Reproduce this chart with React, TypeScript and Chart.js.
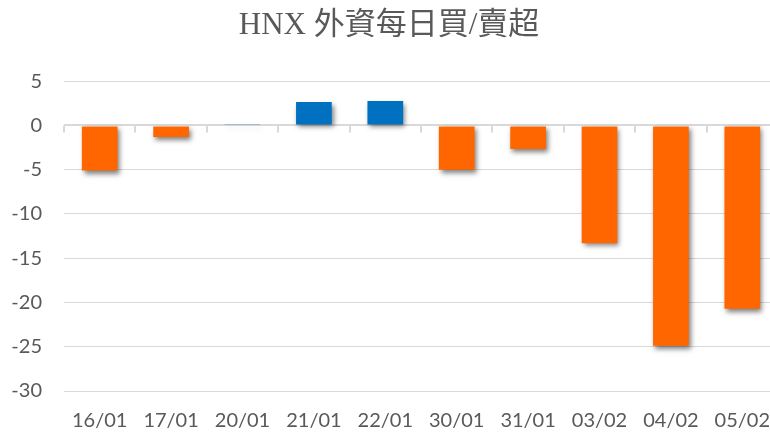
import React, { useEffect, useRef } from 'react';
import { Chart, registerables } from 'chart.js';

Chart.register(...registerables);

const titleText = 'HNX 外資每日買/賣超';
const categories = ['16/01', '17/01', '20/01', '21/01', '22/01', '30/01', '31/01', '03/02', '04/02', '05/02'];
const values = [-5.1, -1.3, 0.15, 2.65, 2.75, -5.0, -2.65, -13.3, -24.9, -20.7];
const yMin = -30;
const yMax = 5;
const yStep = 5;

const POS_COLOR = '#0070C0';
const NEG_COLOR = '#FF6600';
const GRID = '#D9D9D9';
const TEXT = '#595959';

const W = 790;
const H = 437;

const decorPlugin = {
  id: 'decor',
  beforeDatasetsDraw(chart: any) {
    const ctx = chart.ctx;
    const xs = chart.scales.x;
    const ys = chart.scales.y;
    const y0 = ys.getPixelForValue(0);
    const n = categories.length;
    const step = (xs.right - xs.left) / n;
    ctx.save();
    ctx.strokeStyle = GRID;
    ctx.lineWidth = 2;
    for (let i = 0; i <= n; i++) {
      const x = Math.round(xs.left + i * step);
      ctx.beginPath();
      ctx.moveTo(x, y0);
      ctx.lineTo(x, y0 + 7);
      ctx.stroke();
    }
    ctx.restore();
    ctx.save();
    ctx.shadowColor = 'rgba(0,0,0,0.5)';
    ctx.shadowBlur = 5;
    ctx.shadowOffsetX = 2;
    ctx.shadowOffsetY = 3;
  },
  afterDatasetsDraw(chart: any) {
    chart.ctx.restore();
  },
};

export default function App() {
  const ref = useRef<HTMLCanvasElement | null>(null);

  useEffect(() => {
    document.body.style.overflow = 'hidden';
    document.documentElement.style.overflow = 'hidden';
    const canvas = ref.current;
    if (!canvas) return;
    const chart = new Chart(canvas, {
      type: 'bar',
      data: {
        labels: categories,
        datasets: [
          {
            data: values,
            backgroundColor: values.map((v) => (v >= 0 ? POS_COLOR : NEG_COLOR)),
            borderWidth: 0,
            categoryPercentage: 1,
            barPercentage: 0.5,
          },
        ],
      },
      options: {
        responsive: false,
        animation: false,
        layout: { padding: { left: 0, right: W - 778, top: 0, bottom: 0 } },
        plugins: {
          legend: { display: false },
          tooltip: { enabled: false },
          title: {
            display: true,
            text: titleText,
            color: TEXT,
            font: { family: '"Liberation Serif", "Noto Sans CJK TC", serif', size: 31, weight: 'normal' },
            padding: { top: 7, bottom: 37 },
          },
        },
        scales: {
          x: {
            grid: { display: false, drawTicks: false },
            border: { display: false },
            ticks: {
              color: TEXT,
              font: { family: 'Lato, "Open Sans", sans-serif', size: 20 },
              padding: 18,
              maxRotation: 0,
              autoSkip: false,
            },
            afterFit(scale: any) {
              scale.height = 46;
            },
          },
          y: {
            min: yMin,
            max: yMax,
            grid: {
              color: GRID,
              lineWidth: (c: any) => (c.tick && c.tick.value === 0 ? 2 : 1),
              drawTicks: false,
            },
            border: { display: false },
            ticks: {
              stepSize: yStep,
              color: TEXT,
              font: { family: 'Lato, "Open Sans", sans-serif', size: 20 },
              padding: 22,
            },
            afterFit(scale: any) {
              scale.width = 64;
            },
          },
        },
      },
      plugins: [decorPlugin],
    });
    return () => chart.destroy();
  }, []);

  return (
    <div style={{ position: 'fixed', left: 0, top: 0, width: W, height: H, background: '#fff' }}>
      <canvas ref={ref} width={W} height={H} style={{ display: 'block' }} />
    </div>
  );
}
